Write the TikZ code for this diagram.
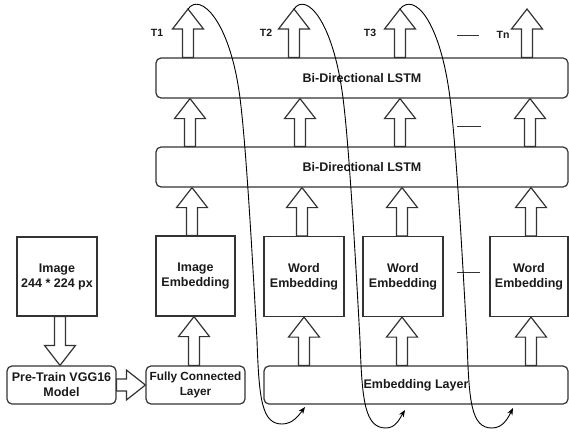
\documentclass[tikz,border=0pt]{standalone}
\usepackage{fontspec}
\setmainfont{Liberation Sans}
\usetikzlibrary{calc,arrows.meta}
\definecolor{ln}{HTML}{333333}
\definecolor{tx}{HTML}{1A1A1A}
\tikzset{
  base/.style={draw=ln, line width=1.2pt, fill=white, inner sep=0pt, align=center, text=tx,
    font=\bfseries\fontsize{12.5}{15}\selectfont},
  sqbox/.style={base, minimum width=80pt, minimum height=80pt},
  rbox/.style={base, rounded corners=5pt, minimum height=38pt},
  lbl/.style={inner sep=0pt, text=tx, font=\bfseries\fontsize{10.5}{12}\selectfont},
  blk/.style={draw=ln, line width=1.2pt, fill=white},
  upblock/.style={blk, to path={let \p1=(\tikztostart), \p2=(\tikztotarget) in
    (#1pt-5.5pt,\y1) -- (#1pt-5.5pt,\y2-20pt) -- (#1pt-15.5pt,\y2-20pt) -- (#1pt,\y2)
    -- (#1pt+15.5pt,\y2-20pt) -- (#1pt+5.5pt,\y2-20pt) -- (#1pt+5.5pt,\y1) -- cycle}},
  downblock/.style={blk, to path={let \p1=(\tikztostart), \p2=(\tikztotarget) in
    (#1pt-5.5pt,\y1) -- (#1pt-5.5pt,\y2+20pt) -- (#1pt-15.5pt,\y2+20pt) -- (#1pt,\y2)
    -- (#1pt+15.5pt,\y2+20pt) -- (#1pt+5.5pt,\y2+20pt) -- (#1pt+5.5pt,\y1) -- cycle}},
  rightblock/.style={blk, to path={let \p1=(\tikztostart), \p2=(\tikztotarget) in
    (\x1,\y1+6pt) -- (\x2-19pt,\y1+6pt) -- (\x2-19pt,\y1+15pt) -- (\x2,\y1)
    -- (\x2-19pt,\y1-15pt) -- (\x2-19pt,\y1-6pt) -- (\x1,\y1-6pt) -- cycle}},
  loop/.style={draw=black, line width=0.9pt, -{Stealth[length=7pt,width=5.5pt]}},
  dashmark/.style={draw=ln, line width=1pt}
}
\begin{document}
\begin{tikzpicture}[x=1pt,y=-1pt]
\useasboundingbox (0,0) rectangle (569,431);

% boxes
\node[rbox, minimum width=412pt, minimum height=40pt] (lstmA) at (362,78) {Bi-Directional LSTM};
\node[rbox, minimum width=412pt, minimum height=40pt] (lstmB) at (362,167) {Bi-Directional LSTM};
\node[sqbox, minimum width=79pt] (iemb) at (195.5,276) {Image\\Embedding};
\node[sqbox] (we1) at (304,276.5) {Word\\Embedding};
\node[sqbox] (we2) at (403,276.5) {Word\\Embedding};
\node[sqbox, minimum width=78pt] (wen) at (529,276.5) {Word\\Embedding};
\node[rbox, minimum width=304pt] (emb) at (416,385) {Embedding Layer};
\node[sqbox, minimum height=79pt] (img) at (57,276.5) {Image\\244 * 224 px};
\node[rbox, minimum width=109pt] (vgg) at (61.5,385) {Pre-Train VGG16\\Model};
\node[rbox, minimum width=99pt, font=\bfseries\fontsize{11.8}{15}\selectfont] (fc) at (195.5,385) {Fully Connected\\Layer};

% output tips
\coordinate (o1) at (188,9);
\coordinate (o2) at (294,9);
\coordinate (o3) at (400,9);
\coordinate (on) at (527,9);

% labels
\node[lbl] (t1) at (157,33) {T1};
\node[lbl] (t2) at (266,33) {T2};
\node[lbl] (t3) at (370,33) {T3};
\node[lbl] (tn) at (503,35) {Tn};

% block arrows
\path[upblock=188] (lstmA.north) to (o1);
\path[upblock=294] (lstmA.north) to (o2);
\path[upblock=400] (lstmA.north) to (o3);
\path[upblock=527] (lstmA.north) to (on);

\path[upblock=190] (lstmB.north) to (lstmA.south);
\path[upblock=300] (lstmB.north) to (lstmA.south);
\path[upblock=400] (lstmB.north) to (lstmA.south);
\path[upblock=530] (lstmB.north) to (lstmA.south);

\path[upblock=192] (iemb.north) to (lstmB.south);
\path[upblock=302] (we1.north) to (lstmB.south);
\path[upblock=402] (we2.north) to (lstmB.south);
\path[upblock=531] (wen.north) to (lstmB.south);

\path[upblock=304] (emb.north) to (we1.south);
\path[upblock=402] (emb.north) to (we2.south);
\path[upblock=531] (emb.north) to (wen.south);

\path[upblock=194] (fc.north) to (iemb.south);
\path[downblock=60] (img.south) to (vgg.north);
\path[rightblock] (vgg.east) to (fc.west);

% ellipsis dashes
\draw[dashmark] (457,35) -- (479,35);
\draw[dashmark] (457,126) -- (481,126);
\draw[dashmark] (457,272) -- (480,272);

% loop-back curves
\coordinate (e1) at (305,407);
\coordinate (e2) at (405,410);
\coordinate (e3) at (513,408);
\draw[loop] (o1) .. controls (200,-8) and (230,20) .. (240,98)
  .. controls (246,145) and (252,250) .. (257,340)
  .. controls (259,400) and (262,424) .. (282,424)
  .. controls (293,424) and (299,415) .. (e1);
\draw[loop] (o2) .. controls (306,-8) and (333,20) .. (343,98)
  .. controls (349,145) and (355,250) .. (360,340)
  .. controls (362,402) and (365,428) .. (386,428)
  .. controls (396,428) and (400,418) .. (e2);
\draw[loop] (o3) .. controls (414,-8) and (440,20) .. (450,98)
  .. controls (456,145) and (462,250) .. (467,340)
  .. controls (469,402) and (471,428) .. (492,428)
  .. controls (503,428) and (508,418) .. (e3);
\end{tikzpicture}
\end{document}
